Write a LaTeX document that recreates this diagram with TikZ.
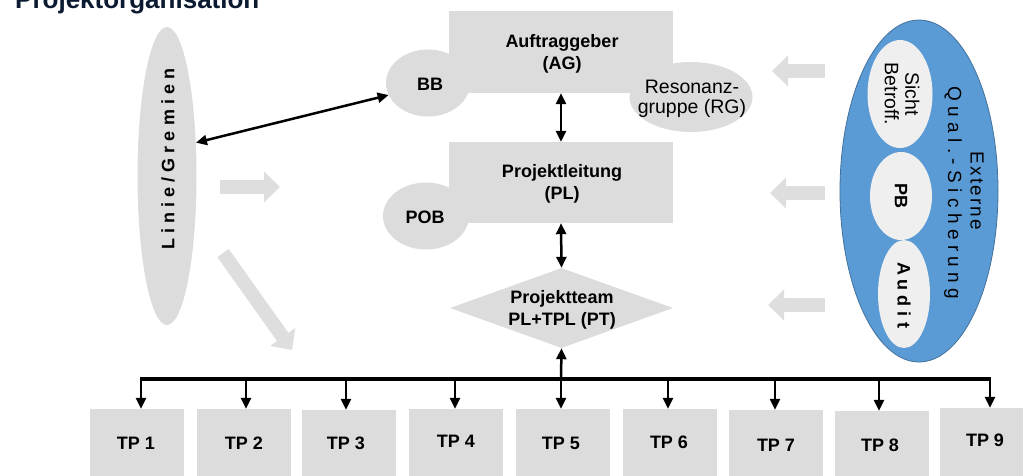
\documentclass[tikz,border=0pt]{standalone}
\usepackage{fontspec}
\setmainfont{Liberation Sans}
\usetikzlibrary{shapes.geometric,arrows.meta}
\definecolor{boxgray}{HTML}{DCDCDC}
\definecolor{arrgray}{HTML}{DEDEDE}
\definecolor{qblue}{HTML}{5B9BD5}
\definecolor{qborder}{HTML}{41719C}
\definecolor{lightell}{HTML}{EFEFEF}
\definecolor{titlecol}{HTML}{0B1A30}
\begin{document}
\begin{tikzpicture}[x=1pt,y=-1pt,
  graybox/.style={fill=boxgray, inner sep=0, draw=none},
  grayell/.style={ellipse, fill=boxgray, inner sep=0},
  whiteell/.style={ellipse, fill=lightell, inner sep=0},
  lbl/.style={font=\bfseries\fontsize{18}{22}\selectfont, align=center, inner sep=0},
  rlbl/.style={font=\fontsize{19.5}{20.5}\selectfont, align=center, inner sep=0},
  qlbl/.style={font=\fontsize{19}{20}\selectfont, inner sep=0},
  conn/.style={line width=2.5pt, -{Triangle[width=10pt,length=11pt]}},
  dconn/.style={line width=2.5pt, {Triangle[width=10pt,length=11pt]}-{Triangle[width=10pt,length=11pt]}},
  busline/.style={line width=4pt},
  fat/.style={line width=14pt, arrgray, -{Triangle[width=30pt,length=16pt]}},
  tpbox/.style={fill=boxgray, minimum width=94pt, minimum height=70pt, inner sep=0}
]
\useasboundingbox (0,0) rectangle (1023,475);

% title
\node[anchor=base west, font=\bfseries\fontsize{26}{30}\selectfont, text=titlecol, inner sep=0] (title) at (15,8) {Projektorganisation};

% left ellipse
\node[grayell, minimum width=59, minimum height=298] (lg) at (167,176) {};
\node[lbl, rotate=90] (lgt) at (168,159) {L i n i e / G r e m i e n};

% center
\node[grayell, minimum width=84, minimum height=67] (bb) at (428,83) {};
\node[grayell, minimum width=86, minimum height=67] (pob) at (426,216) {};
\node[grayell, minimum width=123, minimum height=70] (rg) at (691,97) {};
\node[graybox, minimum width=224, minimum height=82] (ag) at (561,52) {};
\node[graybox, minimum width=224, minimum height=81] (pl) at (561,182.5) {};
\node[diamond, fill=boxgray, inner sep=0, minimum width=223, minimum height=80] (pt) at (561.5,308) {};

\node[lbl] (agt) at (562,54) {Auftraggeber\\(AG)};
\node[lbl] (bbt) at (430,84) {BB};
\node[rlbl] (rgt) at (692,99) {Resonanz-\\gruppe (RG)};
\node[lbl] (plt) at (562,184) {Projektleitung\\(PL)};
\node[lbl] (pobt) at (425,217) {POB};
\node[lbl] (ptt) at (562,310) {Projektteam\\PL+TPL (PT)};

% right ellipse
\node[ellipse, fill=qblue, draw=qborder, line width=0.8pt, minimum width=158, minimum height=342, inner sep=0] (eq) at (919,191) {};
\node[whiteell, minimum width=65, minimum height=108] (sb) at (900,94) {};
\node[whiteell, minimum width=62, minimum height=88] (pb) at (901,196) {};
\node[whiteell, minimum width=52, minimum height=108] (au) at (904,294) {};
\node[rlbl, rotate=-90] (sbt) at (902,94) {Sicht\\Betroff.};
\node[lbl, rotate=-90] (pbt) at (901,196) {PB};
\node[lbl, rotate=-90] (aut) at (904,295) {A u d i t};
\node[qlbl, rotate=-90] (ext) at (977,191) {\addfontfeature{LetterSpace=11}Externe};
\node[qlbl, rotate=-90] (qst) at (953,193) {\addfontfeature{LetterSpace=28.5}Qual.-Sicherung};

% fat gray arrows
\coordinate (f1s) at (220,187); \coordinate (f1e) at (280,187);
\coordinate (f2s) at (223,253); \coordinate (f2e) at (292,350);
\coordinate (r1s) at (825,71);  \coordinate (r1e) at (772,71);
\coordinate (r2s) at (825,193); \coordinate (r2e) at (770,193);
\coordinate (r3s) at (825,305); \coordinate (r3e) at (768,305);
\draw[fat] (f1s) -- (f1e);
\draw[fat] (f2s) -- (f2e);
\draw[fat] (r1s) -- (r1e);
\draw[fat] (r2s) -- (r2e);
\draw[fat] (r3s) -- (r3e);

% black connectors
\draw[dconn] (lg.49) -- (bb.197);
\draw[dconn] (ag.south) -- (pl.north);
\draw[dconn] (pl.south) -- (pt.north);

% TP boxes
\node[tpbox] (tp1) at (137,444) {};
\node[tpbox] (tp2) at (244,444) {};
\node[tpbox] (tp3) at (349,445) {};
\node[tpbox] (tp4) at (456,444) {};
\node[tpbox] (tp5) at (562.5,444) {};
\node[tpbox] (tp6) at (670,444) {};
\node[tpbox] (tp7) at (776,445) {};
\node[tpbox] (tp8) at (882,446) {};
\node[tpbox] (tp9) at (987,443) {};
\node[lbl] at (136,443) {TP 1};
\node[lbl] at (244,443) {TP 2};
\node[lbl] at (346,443) {TP 3};
\node[lbl] at (456,441) {TP 4};
\node[lbl] at (561,443) {TP 5};
\node[lbl] at (669,442) {TP 6};
\node[lbl] at (776,445) {TP 7};
\node[lbl] at (880,445) {TP 8};
\node[lbl] at (985,440) {TP 9};

% bus
\coordinate (b1) at (141,379);
\coordinate (b2) at (246,379);
\coordinate (b3) at (346,379);
\coordinate (b4) at (455,379);
\coordinate (b5) at (561,379);
\coordinate (b6) at (668,379);
\coordinate (b7) at (775,379);
\coordinate (b8) at (879,379);
\coordinate (b9) at (990,379);
\draw[busline] ([xshift=-1.25pt]b1) -- ([xshift=1.25pt]b9);
\draw[conn] (b5) -- (pt.south);
\foreach \i in {1,...,9} {
  \draw[conn] (b\i) -- (b\i |- tp\i.north);
}
\end{tikzpicture}
\end{document}
